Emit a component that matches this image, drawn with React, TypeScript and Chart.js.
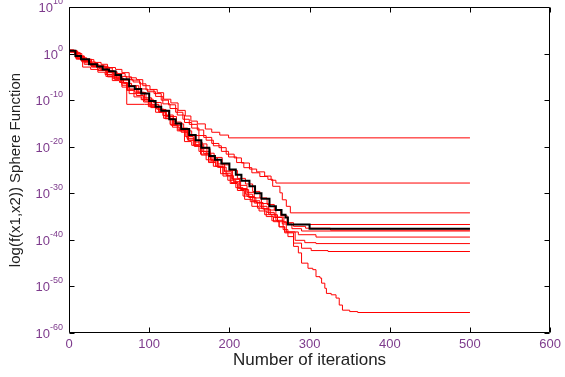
import { useEffect, useRef } from 'react';
import { Chart, registerables } from 'chart.js';

Chart.register(...registerables);

// Tick labels
const iterTicks = [0, 100, 200, 300, 400, 500, 600];
const decadeTicks = [10, 0, -10, -20, -30, -40, -50, -60];

// Each run: [iteration, log10(f)] pairs
const run1 = [[0,0.8],[6,0.2],[14,-0.9],[22,-1.3],[31,-1.9],[40,-2.3],[48,-3.0],[58,-3.4],[66,-4.1],[75,-5.2],[84,-5.6],[92,-6.9],[101,-7.7],[110,-8.4],[118,-9.8],[127,-10.6],[136,-12.2],[145,-13.4],[152,-14.5],[160,-15.1],[170,-16.2],[178,-16.9],[188,-17.5],[199,-18.1],[500,-18.1]];
const run2 = [[0,0.4],[7,-0.3],[15,-1.5],[24,-1.8],[33,-2.5],[43,-2.9],[50,-3.9],[60,-4.3],[70,-5.0],[78,-5.7],[88,-6.5],[96,-7.8],[106,-8.6],[115,-10.0],[124,-11.0],[133,-12.6],[142,-14.1],[150,-15.2],[160,-16.4],[168,-18.0],[178,-19.3],[187,-20.2],[196,-21.6],[206,-22.4],[215,-23.5],[225,-24.8],[234,-25.4],[244,-26.3],[252,-27.2],[258,-27.8],[500,-27.8]];
const run3 = [[0,0.6],[9,-1.0],[18,-1.6],[27,-2.3],[36,-2.7],[45,-3.1],[54,-4.4],[63,-4.9],[72,-5.6],[80,-6.1],[89,-7.6],[98,-8.2],[108,-9.2],[117,-10.8],[126,-11.8],[135,-13.2],[144,-14.8],[153,-16.0],[162,-17.6],[171,-18.6],[180,-19.8],[190,-21.0],[199,-22.2],[209,-23.4],[218,-24.5],[228,-25.6],[238,-26.4],[248,-27.0],[254,-28.5],[263,-29.9],[266,-31.4],[271,-32.8],[276,-34.2],[500,-34.2]];
const run4 = [[0,0.5],[11,-1.1],[20,-2.0],[30,-2.8],[40,-3.6],[49,-3.9],[59,-5.3],[68,-6.4],[78,-6.9],[87,-8.4],[96,-9.8],[105,-10.5],[115,-12.4],[124,-13.5],[134,-15.1],[143,-16.6],[153,-17.6],[162,-19.4],[172,-21.4],[181,-22.3],[191,-23.9],[200,-25.1],[210,-26.8],[220,-28.0],[229,-29.6],[238,-31.0],[247,-32.4],[256,-33.6],[264,-34.8],[272,-36.7],[500,-36.7]];
const run5 = [[0,0.7],[8,0.0],[16,-1.8],[26,-2.1],[36,-3.6],[46,-4.1],[56,-4.7],[65,-6.3],[72,-10.9],[94,-10.9],[103,-11.5],[112,-12.4],[121,-13.2],[130,-15.0],[139,-16.3],[148,-18.6],[157,-19.9],[166,-21.0],[176,-22.7],[185,-24.4],[194,-25.2],[204,-27.0],[213,-28.3],[222,-29.8],[231,-31.0],[240,-32.2],[249,-33.6],[258,-35.1],[268,-36.3],[280,-37.1],[295,-37.5],[326,-37.9],[500,-37.9]];
const run6 = [[0,0.3],[9,-1.2],[17,-2.9],[27,-3.4],[37,-3.6],[46,-4.9],[55,-5.4],[64,-6.2],[73,-7.8],[82,-8.3],[91,-9.9],[100,-11.2],[109,-11.9],[118,-13.9],[127,-15.4],[136,-16.4],[145,-17.8],[155,-19.6],[164,-21.6],[174,-23.4],[183,-24.2],[192,-25.8],[202,-27.7],[211,-29.0],[220,-30.2],[229,-31.6],[238,-32.8],[247,-34.1],[256,-35.2],[266,-36.6],[278,-37.6],[290,-38.1],[500,-38.1]];
const run7 = [[0,0.6],[10,-0.6],[19,-1.4],[28,-2.9],[38,-3.3],[47,-4.6],[57,-5.0],[66,-6.8],[75,-7.6],[85,-8.3],[94,-10.2],[103,-11.0],[112,-12.0],[121,-13.9],[131,-14.7],[140,-16.9],[149,-18.6],[158,-19.6],[168,-21.5],[177,-23.0],[186,-24.4],[196,-26.2],[205,-27.5],[214,-29.2],[224,-30.9],[233,-32.0],[242,-33.4],[251,-34.6],[260,-36.1],[271,-38.3],[286,-38.9],[308,-39.4],[500,-39.4]];
const run8 = [[0,0.5],[8,-0.9],[18,-1.7],[27,-2.6],[36,-4.0],[45,-4.5],[54,-5.8],[63,-6.2],[72,-7.9],[81,-9.3],[90,-9.9],[99,-11.4],[108,-12.6],[117,-13.3],[126,-15.2],[135,-16.6],[144,-18.9],[153,-19.7],[162,-21.0],[171,-22.8],[180,-24.2],[189,-25.8],[198,-27.2],[208,-28.8],[217,-30.6],[226,-31.8],[235,-33.2],[244,-34.6],[253,-35.9],[262,-37.2],[269,-38.3],[282,-40.1],[294,-40.6],[308,-40.8],[500,-40.8]];
const run9 = [[0,0.6],[10,-0.5],[19,-2.3],[29,-2.8],[39,-3.1],[48,-5.0],[57,-5.6],[66,-7.2],[75,-8.6],[84,-9.0],[93,-10.4],[102,-11.6],[111,-12.1],[120,-14.0],[129,-15.8],[138,-16.6],[147,-18.2],[156,-19.9],[165,-21.8],[174,-23.1],[183,-24.2],[192,-26.3],[201,-27.9],[210,-29.4],[219,-31.3],[228,-32.8],[237,-33.8],[246,-35.0],[255,-36.1],[262,-37.2],[269,-38.5],[280,-40.7],[290,-41.8],[302,-42.3],[323,-42.5],[500,-42.5]];
const run10 = [[0,0.4],[9,-0.6],[18,-1.2],[28,-2.4],[37,-2.7],[47,-3.7],[56,-5.1],[66,-5.7],[75,-6.9],[84,-8.6],[94,-9.5],[103,-10.9],[112,-12.6],[121,-13.5],[130,-15.4],[139,-16.0],[148,-17.4],[157,-19.0],[166,-20.4],[176,-22.4],[185,-23.7],[194,-25.4],[203,-26.9],[213,-29.0],[222,-30.7],[231,-32.1],[240,-33.3],[249,-34.5],[258,-35.8],[267,-37.8],[273,-39.3],[280,-41.4],[286,-42.8],[290,-45.0],[298,-46.1],[304,-46.4],[308,-47.9],[313,-48.2],[315,-49.3],[319,-50.4],[321,-51.5],[327,-51.8],[333,-52.5],[337,-54.0],[341,-55.1],[350,-55.4],[360,-55.6],[500,-55.6]];
const meanRun = [[0,0.6],[8,-0.5],[15,-1.2],[25,-2.3],[35,-2.8],[42,-3.4],[50,-3.8],[58,-4.6],[65,-5.5],[75,-7.0],[82,-7.6],[90,-8.6],[100,-10.2],[108,-11.4],[115,-12.3],[125,-14.1],[133,-15.0],[140,-16.2],[150,-17.5],[158,-18.6],[165,-20.2],[175,-22.0],[182,-22.8],[190,-23.6],[200,-24.9],[208,-26.0],[215,-27.3],[225,-28.5],[232,-30.0],[240,-31.2],[250,-32.8],[258,-33.6],[265,-34.6],[270,-35.2],[273,-36.7],[298,-36.7],[300,-37.6],[500,-37.6]];

const redRuns = [run1, run2, run3, run4, run5, run6, run7, run8, run9, run10];

const FONT = 'Liberation Sans, Arial, sans-serif';
const TICK_COLOR = '#7d3a8c';

const toPts = (run: number[][]) => run.map(([x, e]) => ({ x, y: Math.pow(10, e) }));

const boxPlugin = {
  id: 'box',
  afterDatasetsDraw(chart: any) {
    const { ctx, chartArea: a, scales } = chart;
    const L = Math.round(a.left) + 0.5;
    const R = Math.round(a.right) - 0.5;
    const T = Math.round(a.top) + 0.5;
    const B = Math.round(a.bottom) - 0.5;
    ctx.save();
    ctx.strokeStyle = '#000';
    ctx.lineWidth = 1;
    ctx.beginPath();
    ctx.rect(L, T, R - L, B - T);
    const tl = 5;
    iterTicks.forEach(v => {
      const x = Math.round(scales.x.getPixelForValue(v)) + 0.5;
      ctx.moveTo(x, B); ctx.lineTo(x, B - tl);
      ctx.moveTo(x, T); ctx.lineTo(x, T + tl);
    });
    decadeTicks.forEach(e => {
      const y = Math.round(scales.y.getPixelForValue(Math.pow(10, e))) + 0.5;
      ctx.moveTo(L, y); ctx.lineTo(L + tl, y);
      ctx.moveTo(R, y); ctx.lineTo(R - tl, y);
    });
    ctx.stroke();

    // y tick labels: "10" with a raised exponent
    ctx.fillStyle = TICK_COLOR;
    ctx.textBaseline = 'alphabetic';
    ctx.textAlign = 'left';
    const right = a.left - 6;
    decadeTicks.forEach(e => {
      const y = scales.y.getPixelForValue(Math.pow(10, e));
      const exp = String(e);
      ctx.font = `9px ${FONT}`;
      const ew = ctx.measureText(exp).width;
      ctx.font = `13px ${FONT}`;
      const bw = ctx.measureText('10').width;
      const x0 = right - ew - bw;
      ctx.fillText('10', x0, y + 5);
      ctx.font = `9px ${FONT}`;
      ctx.fillText(exp, x0 + bw, y - 3);
    });
    ctx.restore();
  },
};

export default function App() {
  const ref = useRef<HTMLCanvasElement>(null);
  useEffect(() => {
    const datasets: any[] = redRuns.map(r => ({
      data: toPts(r),
      borderColor: '#ff0000',
      borderWidth: 1,
      pointRadius: 0,
      tension: 0,
      stepped: true,
      order: 1,
    }));
    datasets.push({
      data: toPts(meanRun),
      borderColor: '#000000',
      borderWidth: 2,
      pointRadius: 0,
      tension: 0,
      stepped: true,
      order: 0,
    });
    const chart = new Chart(ref.current!, {
      type: 'line',
      data: { datasets },
      plugins: [boxPlugin],
      options: {
        animation: false,
        responsive: false,
        events: [],
        layout: { padding: { left: 0, right: 12, top: 7, bottom: 0 } },
        plugins: { legend: { display: false }, tooltip: { enabled: false } },
        scales: {
          x: {
            type: 'linear',
            min: 0,
            max: 600,
            grid: { display: false, drawTicks: false },
            border: { display: false },
            afterBuildTicks: (s: any) => { s.ticks = iterTicks.map(v => ({ value: v })); },
            afterFit: (s: any) => { s.height = 44; },
            ticks: {
              color: TICK_COLOR,
              font: { family: FONT, size: 13 },
              padding: 4,
              maxRotation: 0,
              autoSkip: false,
            },
            title: {
              display: true,
              text: 'Number of iterations',
              color: '#222',
              font: { family: FONT, size: 17 },
              padding: { top: 0, bottom: 6 },
            },
          },
          y: {
            type: 'logarithmic',
            min: 1e-60,
            max: 1e10,
            grid: { display: false, drawTicks: false },
            border: { display: false },
            afterBuildTicks: (s: any) => { s.ticks = decadeTicks.map(e => ({ value: Math.pow(10, e) })); },
            afterFit: (s: any) => { s.width = 69; },
            ticks: { display: false },
            title: {
              display: true,
              text: 'log(f(x1,x2)) Sphere Function',
              color: '#222',
              font: { family: FONT, size: 15 },
              padding: { top: 7, bottom: 0 },
            },
          },
        },
      },
    });
    return () => chart.destroy();
  }, []);
  return (
    <div style={{ position: 'fixed', left: 0, top: 0, width: 565, height: 377, background: '#fff' }}>
      <canvas ref={ref} width={565} height={377} style={{ display: 'block' }} />
    </div>
  );
}
